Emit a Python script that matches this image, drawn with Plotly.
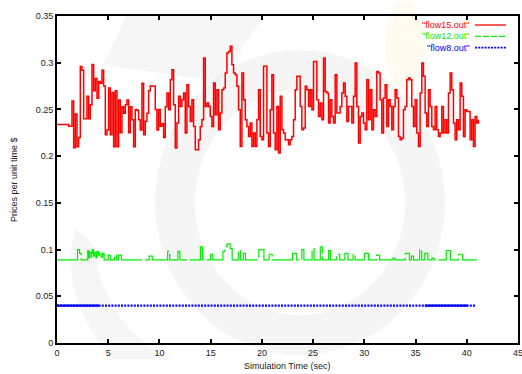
import numpy as np
import plotly.graph_objects as go

# ---------------- data ----------------
red_dt = 0.1626
red_v = [
    0.234, 0.234, 0.234, 0.234, 0.234, 0.234, 0.234, 0.232, 0.232,
    0.259, 0.209, 0.245, 0.210, 0.220, 0.296, 0.292, 0.240, 0.240, 0.264,
    0.240, 0.255, 0.298, 0.270, 0.283, 0.262, 0.280, 0.278, 0.292, 0.275,
    0.223, 0.228, 0.273, 0.223, 0.268, 0.210, 0.270, 0.210, 0.260, 0.225,
    0.253, 0.246, 0.255, 0.260, 0.225, 0.253, 0.239, 0.210, 0.250, 0.249,
    0.239, 0.228, 0.278, 0.223, 0.237, 0.246, 0.270, 0.275, 0.275, 0.275,
    0.250, 0.228, 0.250, 0.232, 0.235, 0.220, 0.253,
    0.2675, 0.2497, 0.2818, 0.2925, 0.255, 0.2086, 0.2354, 0.264, 0.2532,
    0.2604, 0.2675, 0.2247, 0.2764, 0.2532, 0.2372, 0.2604, 0.2318, 0.2068,
    0.2068, 0.2175, 0.2318, 0.239, 0.305, 0.2532, 0.2568, 0.2532, 0.2425,
    0.2318, 0.2782, 0.2443, 0.2711, 0.2282, 0.2461, 0.2711, 0.2729, 0.2889,
    0.3104, 0.3121, 0.3175, 0.2979, 0.2889, 0.2871, 0.2747, 0.2497, 0.2104,
    0.2889, 0.2604, 0.239, 0.2318, 0.2211, 0.2354, 0.2104, 0.2247, 0.2104,
    0.239, 0.2711, 0.2211, 0.2175, 0.2961, 0.2961,
    0.2247, 0.2104, 0.2497, 0.2871, 0.2247, 0.2068, 0.2532, 0.2033, 0.264,
    0.2282, 0.2247, 0.2175, 0.2175, 0.2122, 0.2175, 0.2211, 0.239, 0.2711,
    0.2854, 0.2854, 0.2532, 0.2282, 0.230, 0.2747, 0.2711, 0.2532, 0.2711,
    0.2497, 0.3014, 0.3014, 0.2604, 0.2425, 0.2568, 0.239, 0.305, 0.2693,
    0.2675, 0.2354, 0.2604, 0.2425, 0.2354, 0.2871, 0.2461, 0.2461, 0.2532,
    0.2675, 0.2782, 0.264, 0.2372, 0.2532, 0.2532, 0.2354, 0.264, 0.2996,
    0.2532, 0.214, 0.2425, 0.2461, 0.2354, 0.2282, 0.2818, 0.239, 0.2711,
    0.2282, 0.2497, 0.2425, 0.2907, 0.2889, 0.2604, 0.2247, 0.2622, 0.2764,
    0.2318, 0.2604, 0.2532, 0.2282, 0.2532, 0.2711, 0.2622, 0.2211, 0.2175,
    0.2193, 0.2497, 0.2532, 0.2818, 0.2836, 0.2818, 0.2532, 0.2318, 0.2604,
    0.2247, 0.2104, 0.2675, 0.2996, 0.2854, 0.2461, 0.2318, 0.2711, 0.2532,
    0.2318, 0.2282, 0.2532, 0.2282, 0.2211, 0.2247, 0.2532, 0.2247, 0.239,
    0.2247, 0.2675, 0.2889, 0.2711, 0.2354, 0.2175, 0.239, 0.2282, 0.2782,
    0.264, 0.2211, 0.2497, 0.2479, 0.2479, 0.2175, 0.239, 0.2104, 0.2425,
    0.2354, 0.239,
]
red_t = np.arange(len(red_v)) * red_dt

green_t = [0, 2.0, 2.2, 2.35, 3.0, 3.1, 3.2, 3.35, 3.45, 3.55, 3.65, 3.8, 3.9,
           4.05, 4.15, 4.3, 4.45, 4.6, 5.0, 5.2, 5.6, 5.8, 6.0, 6.3, 9.0, 9.3,
           10.8, 11.0, 11.8, 12.0, 14.0, 14.2, 15.0, 15.2, 16.2, 16.4, 16.6,
           16.9, 17.1, 17.7, 17.9, 18.2, 18.4, 19.7, 20.2, 20.7, 21.0, 23.0,
           23.4, 23.9, 24.1, 24.9, 25.1, 25.7, 25.9, 26.5, 26.7, 27.3, 27.6,
           28.1, 28.4, 28.9, 29.1, 30.0, 30.4, 31.2, 31.5, 32.8, 33.0, 34.0,
           34.4, 34.6, 34.8, 35.4, 35.6, 35.9, 36.2, 36.6, 36.8, 38.0, 38.4,
           39.2, 39.6, 41.0]
green_v = [0.089, 0.100, 0.096, 0.089, 0.099, 0.091, 0.097, 0.092, 0.100,
           0.093, 0.097, 0.091, 0.098, 0.094, 0.097, 0.092, 0.096, 0.089,
           0.094, 0.089, 0.094, 0.089, 0.094, 0.089, 0.093, 0.089, 0.098,
           0.089, 0.098, 0.089, 0.103, 0.089, 0.095, 0.089, 0.098, 0.103,
           0.106, 0.101, 0.089, 0.099, 0.089, 0.096, 0.089, 0.100, 0.089,
           0.095, 0.089, 0.096, 0.089, 0.100, 0.089, 0.101, 0.089, 0.103,
           0.089, 0.099, 0.089, 0.095, 0.089, 0.096, 0.089, 0.095, 0.089,
           0.096, 0.089, 0.094, 0.089, 0.091, 0.089, 0.096, 0.089, 0.093,
           0.089, 0.100, 0.089, 0.096, 0.089, 0.091, 0.089, 0.099, 0.089,
           0.095, 0.089, 0.089]

blue_t = [0, 4.1, 35.9, 40.1, 40.9]
blue_v = [0.04, 0.04, 0.04, 0.04, 0.04]

series_names = ['"flow15.out"', '"flow12.out"', '"flow8.out"']
x_ticks = [0, 5, 10, 15, 20, 25, 30, 35, 40, 45]
y_ticks = [0, 0.05, 0.1, 0.15, 0.2, 0.25, 0.3, 0.35]
y_tick_text = ["0", "0.05", "0.1", "0.15", "0.2", "0.25", "0.3", "0.35"]
x_title = "Simulation Time (sec)"
y_title = "Prices per unit time $"

RED, GREEN, BLUE = "#ff0000", "#00ee00", "#0000ff"
FONT = "Liberation Sans, Arial, sans-serif"
W, H = 522, 374
L, R, T, B = 57, 4, 16, 31
PW, PH = W - L - R, H - T - B


def px(x):
    return (x - L) / PW


def py(y):
    return 1 - (y - T) / PH


fig = go.Figure()

# faint watermark swirl behind the plot
fig.add_shape(type="circle", xref="paper", yref="paper", layer="below",
              x0=px(175), x1=px(425), y0=py(335), y1=py(70),
              line=dict(color="rgba(0,0,0,0.04)", width=40),
              fillcolor="rgba(0,0,0,0)")
fig.add_shape(type="path", xref="paper", yref="paper", layer="below",
              path="M 0.15,1.0 L 0.45,1.0 L 0.35,0.80 L 0.10,0.85 Z",
              line=dict(width=0), fillcolor="rgba(0,0,0,0.035)")
fig.add_shape(type="path", xref="paper", yref="paper", layer="below",
              path="M 0.08,0.30 Q 0.10,0.05 0.25,-0.05 L 0.12,-0.05 Q 0.0,0.15 0.04,0.35 Z",
              line=dict(width=0), fillcolor="rgba(0,0,0,0.035)")
fig.add_shape(type="circle", xref="paper", yref="paper", layer="below",
              x0=px(385), x1=px(425), y0=py(90), y1=py(0),
              line=dict(width=0), fillcolor="rgba(255,200,60,0.07)")

fig.add_trace(go.Scatter(x=red_t, y=red_v, mode="lines", line_shape="hv",
                         line=dict(color=RED, width=1.5), name=series_names[0]))
fig.add_trace(go.Scatter(x=green_t, y=green_v, mode="lines", line_shape="hv",
                         line=dict(color=GREEN, width=1.2, dash="40px,3px"),
                         name=series_names[1]))
fig.add_trace(go.Scatter(x=blue_t, y=blue_v, mode="lines",
                         line=dict(color=BLUE, width=2.2, dash="2px,1.2px"),
                         name=series_names[2]))
# dense-sample stretches of flow8 appear solid
fig.add_trace(go.Scatter(x=blue_t[0:2], y=blue_v[0:2], mode="lines",
                         line=dict(color=BLUE, width=2.2), showlegend=False))
fig.add_trace(go.Scatter(x=blue_t[2:4], y=blue_v[2:4], mode="lines",
                         line=dict(color=BLUE, width=2.2), showlegend=False))

axis_common = dict(showline=True, linecolor="black", linewidth=2, mirror="ticks",
                   ticks="inside", ticklen=4, tickwidth=1.5, tickcolor="black",
                   showgrid=False, zeroline=False, automargin=False,
                   ticklabeloverflow="allow",
                   tickfont=dict(family=FONT, size=9, color="#222"))

fig.update_layout(
    width=W, height=H,
    margin=dict(l=L, r=R, t=T, b=B, autoexpand=False),
    paper_bgcolor="white", plot_bgcolor="rgba(0,0,0,0)",
    showlegend=False,
    xaxis=dict(range=[0, 45], tickvals=x_ticks, **axis_common),
    yaxis=dict(range=[0, 0.35], tickvals=y_ticks, ticktext=y_tick_text, **axis_common),
)

fig.add_annotation(x=px(287), y=py(366), xref="paper", yref="paper",
                   text=x_title, showarrow=False, xanchor="center", yanchor="middle",
                   font=dict(family=FONT, size=9, color="#222"))
fig.add_annotation(x=px(14), y=py(180), xref="paper", yref="paper",
                   text=y_title, showarrow=False, textangle=-90,
                   xanchor="center", yanchor="middle",
                   font=dict(family=FONT, size=9, color="#222"))

# key (gnuplot style: right-aligned labels with line samples)
key_rows = [(series_names[0], RED, "solid", 1.3),
            (series_names[1], GREEN, "6px,2px", 1.3),
            (series_names[2], BLUE, "2px,1.2px", 1.6)]
for i, (label, col, dash, w) in enumerate(key_rows):
    yp = py(25 + i * 11.3)
    fig.add_annotation(x=px(471), y=yp, xref="paper", yref="paper", text=label,
                       showarrow=False, xanchor="right", yanchor="middle",
                       font=dict(family=FONT, size=9, color=col))
    fig.add_shape(type="line", xref="paper", yref="paper",
                  x0=px(475), x1=px(506), y0=yp, y1=yp,
                  line=dict(color=col, width=w, dash=dash))

fig.write_html("out.html", config={"displayModeBar": False},
               post_script="document.body.style.margin='0';"
                           "document.body.style.overflow='hidden';")
